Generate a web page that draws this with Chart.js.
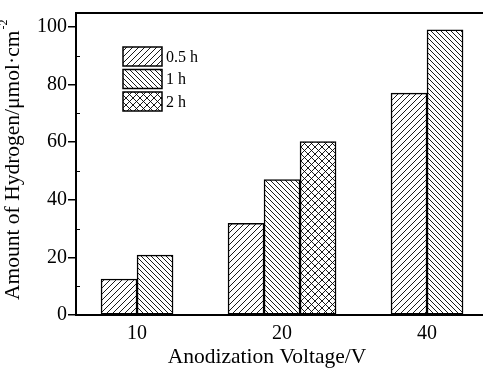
<!DOCTYPE html>
<html>
<head>
<meta charset="utf-8">
<script src="https://cdn.jsdelivr.net/npm/chart.js@4.4.0/dist/chart.umd.min.js"></script>
<style>
  html, body { margin: 0; padding: 0; background: #fff; }
  #wrap { width: 483px; height: 369px; }
</style>
</head>
<body>
<div id="wrap"><canvas id="c" width="483" height="369"></canvas></div>
<script>
const voltages = ['10', '20', '40'];
const seriesNames = ['0.5 h', '1 h', '2 h'];
const h05 = [12.5, 31.8, 77.0];
const h1 = [20.8, 47.0, 99.0];
const h2 = [null, 60.2, null];
const yTicks = [0, 20, 40, 60, 80, 100];
const yMinor = [10, 30, 50, 70, 90];
const xTitle = 'Anodization Voltage/V';
const yTitle = 'Amount of Hydrogen/\u03bcmol\u00b7cm';
const yTitleSup = '-2';

const FONT = "'Liberation Serif', 'Times New Roman', serif";
const canvas = document.getElementById('c');
const ctx = canvas.getContext('2d');

// hatch fills: fwd = '/', back = '\', cross = both
function hatch(kind, s) {
  const t = document.createElement('canvas');
  t.width = s; t.height = s;
  const g = t.getContext('2d');
  g.fillStyle = '#fff';
  g.fillRect(0, 0, s, s);
  g.strokeStyle = '#000';
  g.lineWidth = 0.9;
  g.beginPath();
  if (kind !== 'back') {
    g.moveTo(-1, s + 1); g.lineTo(s + 1, -1);
    g.moveTo(-1, 1); g.lineTo(1, -1);
    g.moveTo(s - 1, s + 1); g.lineTo(s + 1, s - 1);
  }
  if (kind !== 'fwd') {
    g.moveTo(-1, -1); g.lineTo(s + 1, s + 1);
    g.moveTo(s - 1, -1); g.lineTo(s + 1, 1);
    g.moveTo(-1, s - 1); g.lineTo(1, s + 1);
  }
  g.stroke();
  return ctx.createPattern(t, 'repeat');
}

const fills = [hatch('fwd', 6), hatch('back', 5), hatch('cross', 7)];

function points(arr) {
  return arr.map((v, i) => ({ x: i, y: v })).filter((p) => p.y !== null);
}

const frame = {
  id: 'frame',
  afterDraw(chart) {
    const { ctx, chartArea: a, scales: { y } } = chart;
    ctx.save();
    ctx.strokeStyle = '#000';
    ctx.lineWidth = 2;
    ctx.beginPath();
    ctx.moveTo(a.left - 1, a.top);
    ctx.lineTo(a.right, a.top);
    ctx.stroke();
    ctx.lineWidth = 1.2;
    ctx.beginPath();
    yMinor.forEach((v) => {
      const py = Math.round(y.getPixelForValue(v)) + 0.5;
      ctx.moveTo(a.left, py);
      ctx.lineTo(a.left + 4, py);
    });
    ctx.stroke();

    ctx.fillStyle = '#000';
    ctx.textBaseline = 'middle';

    // x title
    ctx.font = '21.5px ' + FONT;
    ctx.textAlign = 'center';
    ctx.fillText(xTitle, 267, 357);

    // y title with superscript
    ctx.save();
    ctx.translate(13, 300);
    ctx.rotate(-Math.PI / 2);
    ctx.textAlign = 'left';
    ctx.font = '21.5px ' + FONT;
    ctx.fillText(yTitle, 0, 0);
    const w = ctx.measureText(yTitle).width;
    ctx.font = '12px ' + FONT;
    ctx.fillText(yTitleSup, w + 1, -9);
    ctx.restore();

    // legend
    const bx = a.left + 47, by = a.top + 34, bw = 39, bh = 19, step = 22.5;
    chart.data.datasets.forEach((ds, i) => {
      const top = by + i * step;
      ctx.fillStyle = ds.backgroundColor;
      ctx.fillRect(bx, top, bw, bh);
      ctx.lineWidth = 1.5;
      ctx.strokeStyle = '#000';
      ctx.strokeRect(bx, top, bw, bh);
      ctx.fillStyle = '#000';
      ctx.font = '16px ' + FONT;
      ctx.textBaseline = 'middle';
      ctx.textAlign = 'left';
      ctx.fillText(ds.label, bx + bw + 4, top + bh / 2 + 1);
    });
    ctx.restore();
  }
};

new Chart(canvas, {
  type: 'bar',
  data: {
    datasets: [
      { label: seriesNames[0], data: points(h05), backgroundColor: fills[0] },
      { label: seriesNames[1], data: points(h1), backgroundColor: fills[1] },
      { label: seriesNames[2], data: points(h2), backgroundColor: fills[2] }
    ]
  },
  options: {
    responsive: false,
    animation: false,
    layout: { padding: { top: 11, right: 0, left: 0, bottom: 0 } },
    datasets: {
      bar: { barThickness: 36, skipNull: true, borderColor: '#000', borderWidth: 1.5, borderSkipped: false }
    },
    plugins: { legend: { display: false }, tooltip: { enabled: false } },
    scales: {
      x: {
        type: 'linear',
        offset: false,
        min: -0.421,
        max: 2.386,
        afterBuildTicks: (s) => { s.ticks = voltages.map((_, i) => ({ value: i })); },
        afterFit: (s) => { s.height = 54; },
        ticks: {
          callback: (v) => voltages[v] ?? '',
          font: { family: FONT, size: 20 },
          color: '#000',
          padding: 7,
          maxRotation: 0
        },
        grid: { display: true, drawOnChartArea: false, drawTicks: false },
        border: { display: true, color: '#000', width: 2 }
      },
      y: {
        min: 0,
        max: 104.8,
        afterBuildTicks: (s) => { s.ticks = yTicks.map((v) => ({ value: v })); },
        afterFit: (s) => { s.width = 76; },
        ticks: { font: { family: FONT, size: 20 }, color: '#000', padding: 1 },
        grid: { display: true, drawOnChartArea: false, drawTicks: true, tickLength: 8, color: '#000', lineWidth: 1.5 },
        border: { display: true, color: '#000', width: 2 }
      }
    }
  },
  plugins: [frame]
});
</script>
</body>
</html>
